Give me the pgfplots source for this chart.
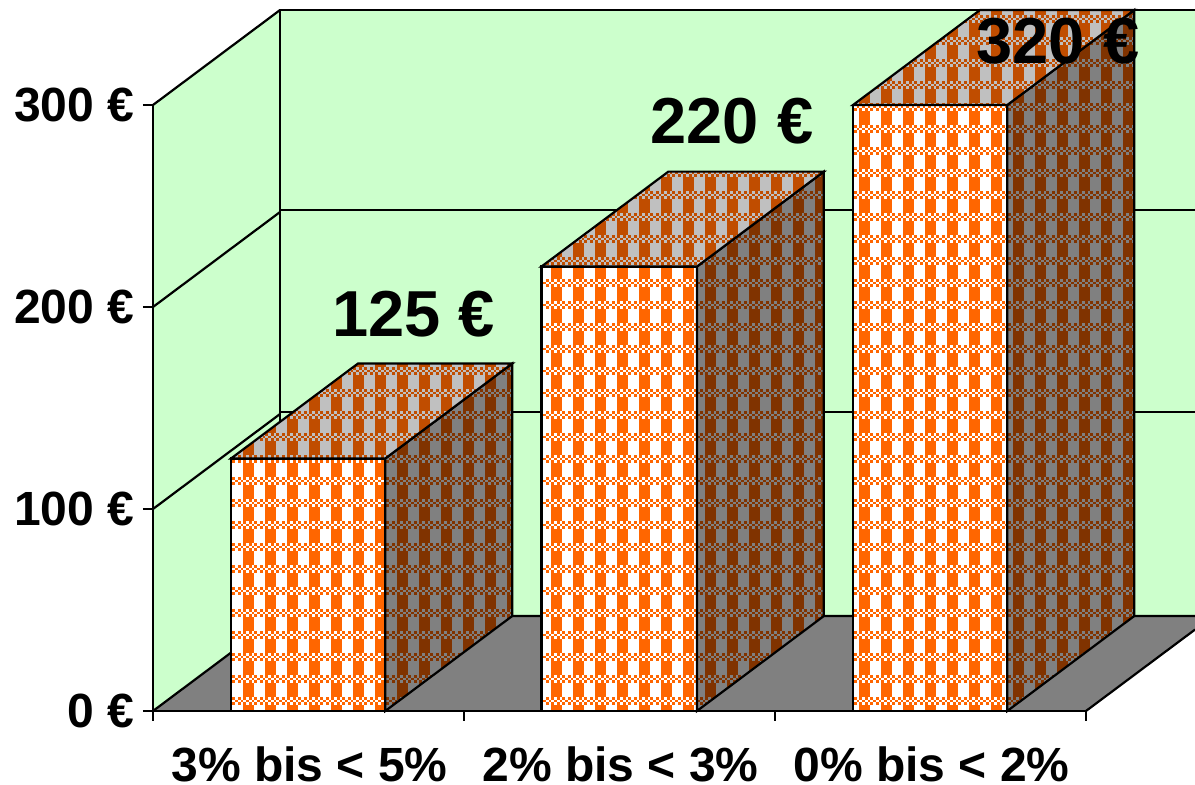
\documentclass[border=0pt]{standalone}
\usepackage{fontspec}
\setmainfont{Liberation Sans}
\usepackage{pgfplots}
\pgfplotsset{compat=1.18}
\usetikzlibrary{patterns}
\definecolor{wallc}{HTML}{CCFFCC}
\definecolor{floorc}{HTML}{808080}
\definecolor{frontA}{HTML}{FF6600}
\definecolor{frontB}{HTML}{FFFFFF}
\definecolor{sideA}{HTML}{803300}
\definecolor{sideB}{HTML}{808080}
\definecolor{topA}{HTML}{C04D00}
\definecolor{topB}{HTML}{C0C0C0}
\newcommand\mkplaid[3]{%
\pgfdeclarepatterninherentlycolored{#1}{\pgfpoint{-0.725pt}{-1.375pt}}{\pgfpoint{13.025pt}{12.375pt}}{\pgfpoint{11pt}{11pt}}{%
  \pgfsetcolor{#3}%
  \pgfpathrectangle{\pgfpoint{-0.725pt}{-1.375pt}}{\pgfpoint{13.75pt}{13.75pt}}\pgfusepath{fill}%
  \pgftransformshift{\pgfpoint{0.65pt}{0pt}}%
  \pgfsetcolor{#2}%
  \foreach \i in {-1,0,1}{\foreach \j in {-1,0,1}{%
    \pgfpathrectangle{\pgfpoint{\i*11pt}{\j*11pt}}{\pgfpoint{5.5pt}{6.875pt}}\pgfusepath{fill}%
  }}%
  \foreach \r in {-1,5,6,7}{\foreach \c in {-2,...,9}{%
    \pgfmathparse{int(mod(\r+\c+16,2))}%
    \ifnum\pgfmathresult=1\relax
      \pgfpathrectangle{\pgfpoint{\c*1.375pt}{\r*1.375pt}}{\pgfpoint{1.375pt}{1.375pt}}\pgfusepath{fill}%
    \fi}}%
}}
\mkplaid{plaidfront}{frontA}{frontB}
\mkplaid{plaidside}{sideA}{sideB}
\mkplaid{plaidtop}{topA}{topB}
\begin{document}
\begin{tikzpicture}
\path[use as bounding box] (0,0) rectangle (597.5pt,392.5pt);
\begin{axis}[
  at={(76.5pt,37pt)}, anchor=south west,
  scale only axis, width=466.5pt, height=303pt,
  xmin=0.5, xmax=3.5, ymin=0, ymax=300,
  clip=false, axis on top,
  axis x line*=bottom, axis y line*=left,
  axis line style={black, line width=1.1pt, -},
  tick align=outside,
  every tick/.style={black, line width=1.1pt},
  major tick length=5pt, minor tick length=5pt,
  xtick={1,2,3}, xticklabels={3\% bis < 5\%,2\% bis < 3\%,0\% bis < 2\%},
  minor xtick={0.5,1.5,2.5,3.5},
  x tick style={draw=none},
  minor x tick style={draw=black, line width=1.1pt},
  ytick={0,100,200,300}, yticklabels={0 €,100 €,200 €,300 €},
  tick label style={font=\fontsize{24}{26}\selectfont\bfseries, black},
  xticklabel style={inner ysep=0pt, yshift=-12.5pt, xshift=0.5pt},
  yticklabel style={xshift=-0.8pt},
]
% walls
\addplot[fill=wallc, draw=none, forget plot] coordinates {(0.5,0)(0.5,300)(0.9084,347)(0.9084,47)} -- cycle;
\addplot[fill=wallc, draw=none, forget plot] coordinates {(0.9084,47)(3.8505,47)(3.8505,347)(0.9084,347)} -- cycle;
\addplot[fill=floorc, draw=none, forget plot] coordinates {(0.5,0)(3.5,0)(3.8505,40.3)(3.8505,47)(0.9084,47)} -- cycle;
% wall outlines and grid
\pgfplotsset{ln/.style={black, line width=1.1pt, mark=none, forget plot}}
\addplot[ln] coordinates {(0.5,0)(0.9084,47)(3.8505,47)};
\addplot[ln] coordinates {(0.9084,47)(0.9084,347)(3.8505,347)};
\addplot[ln] coordinates {(0.5,300)(0.9084,347)};
\addplot[ln] coordinates {(3.5,0)(3.8505,40.3)};
\addplot[ln] coordinates {(0.5,100)(0.9084,147)};
\addplot[ln] coordinates {(0.9084,148)(3.8505,148)};
\addplot[ln] coordinates {(0.5,200)(0.9084,247)};
\addplot[ln] coordinates {(0.9084,248)(3.8505,248)};
% bar 1 : 125
\addplot[ln, pattern=plaidfront] coordinates {(0.751,0)(1.247,0)(1.247,125)(0.751,125)} -- cycle;
\addplot[ln, pattern=plaidside] coordinates {(1.247,0)(1.655,47)(1.655,172)(1.247,125)} -- cycle;
\addplot[ln, pattern=plaidtop] coordinates {(0.751,125)(1.247,125)(1.655,172)(1.159,172)} -- cycle;
% bar 2 : 220
\addplot[ln, pattern=plaidfront] coordinates {(1.749,0)(2.249,0)(2.249,220)(1.749,220)} -- cycle;
\addplot[ln, pattern=plaidside] coordinates {(2.249,0)(2.657,47)(2.657,267)(2.249,220)} -- cycle;
\addplot[ln, pattern=plaidtop] coordinates {(1.749,220)(2.249,220)(2.657,267)(2.157,267)} -- cycle;
% bar 3 : 320, cut at the axis maximum 300
\addplot[ln, pattern=plaidfront] coordinates {(2.751,0)(3.247,0)(3.247,300)(2.751,300)} -- cycle;
\addplot[ln, pattern=plaidside] coordinates {(3.247,0)(3.655,47)(3.655,347)(3.247,300)} -- cycle;
\addplot[ln, pattern=plaidtop] coordinates {(2.751,300)(3.247,300)(3.655,347)(3.159,347)} -- cycle;
\node[font=\fontsize{32.5}{36}\selectfont\bfseries] at (axis cs:1.3376,196.5) {125 €};
\node[font=\fontsize{32.5}{36}\selectfont\bfseries] at (axis cs:2.3617,292) {220 €};
\node[font=\fontsize{32.5}{36}\selectfont\bfseries] at (axis cs:3.41,331.5) {320 €};
\end{axis}
\end{tikzpicture}
\end{document}
